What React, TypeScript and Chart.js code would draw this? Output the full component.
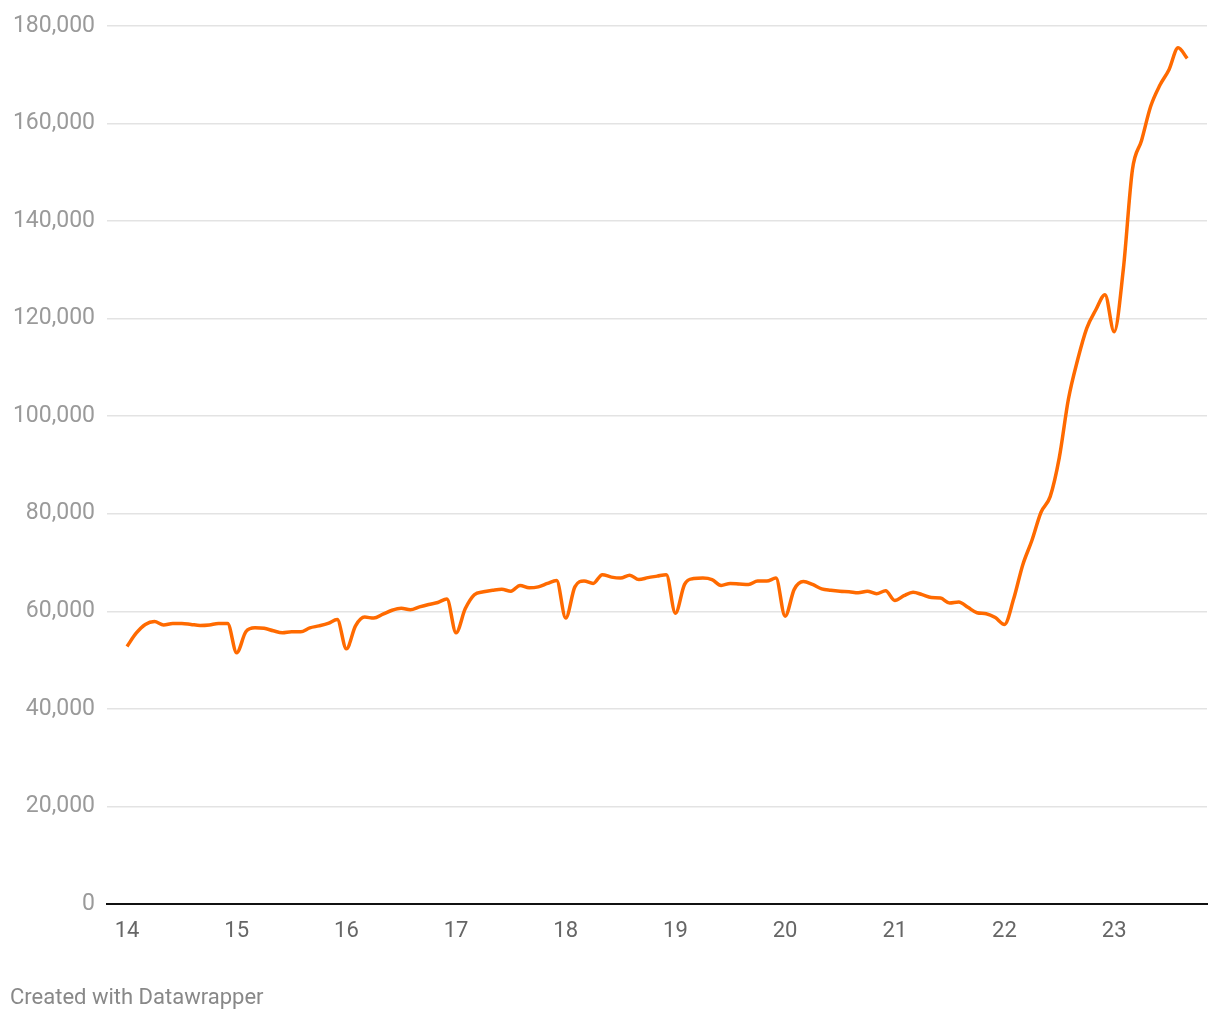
import React, { useEffect, useRef } from "react";
import { Chart, registerables } from "chart.js";

Chart.register(...registerables);

const years = ["14", "15", "16", "17", "18", "19", "20", "21", "22", "23"];

const values2014 = [52.8, 55.5, 57.3, 57.9, 57.2, 57.5, 57.5, 57.3, 57.1, 57.2, 57.5, 57.5];
const values2015 = [51.5, 55.8, 56.6, 56.5, 56.0, 55.6, 55.8, 55.8, 56.6, 57.0, 57.5, 58.3];
const values2016 = [52.3, 57.0, 58.8, 58.6, 59.4, 60.2, 60.6, 60.3, 60.9, 61.4, 61.8, 62.5];
const values2017 = [55.6, 60.5, 63.4, 64.0, 64.3, 64.5, 64.1, 65.3, 64.8, 65.0, 65.7, 66.3];
const values2018 = [58.6, 65.0, 66.2, 65.7, 67.5, 67.0, 66.8, 67.4, 66.5, 66.9, 67.2, 67.5];
const values2019 = [59.6, 65.5, 66.7, 66.8, 66.5, 65.3, 65.7, 65.6, 65.5, 66.2, 66.2, 66.8];
const values2020 = [59.0, 64.5, 66.1, 65.5, 64.6, 64.3, 64.1, 64.0, 63.8, 64.1, 63.6, 64.2];
const values2021 = [62.2, 63.2, 63.9, 63.4, 62.8, 62.7, 61.7, 61.9, 60.8, 59.7, 59.5, 58.7];
const values2022 = [57.3, 62.5, 69.5, 74.5, 80.3, 83.5, 91.5, 103.5, 111.5, 118.0, 121.8, 124.9];
const values2023 = [117.3, 130.0, 150.5, 156.5, 163.5, 167.8, 171.0, 175.5, 173.3];

const seriesThousands = [
  ...values2014, ...values2015, ...values2016, ...values2017, ...values2018,
  ...values2019, ...values2020, ...values2021, ...values2022, ...values2023,
];

const yTicks = [0, 20000, 40000, 60000, 80000, 100000, 120000, 140000, 160000, 180000];

export default function App() {
  const ref = useRef<HTMLCanvasElement | null>(null);

  useEffect(() => {
    if (!ref.current) return;
    const data = seriesThousands.map((v, i) => ({ x: i, y: v * 1000 }));
    const chart = new Chart(ref.current, {
      type: "line",
      data: {
        datasets: [
          {
            data,
            borderColor: "#ff6a00",
            borderWidth: 3.5,
            pointRadius: 0,
            cubicInterpolationMode: "monotone",
            fill: false,
          },
        ],
      },
      options: {
        animation: false,
        responsive: false,
        maintainAspectRatio: false,
        layout: { padding: { left: 0, right: 13, top: 25, bottom: 66 } },
        plugins: { legend: { display: false }, tooltip: { enabled: false } },
        scales: {
          x: {
            type: "linear",
            min: -2.19,
            max: 118.16,
            afterBuildTicks: (scale: any) => {
              scale.ticks = years.map((_, i) => ({ value: i * 12 }));
            },
            afterFit: (scale: any) => {
              scale.height = 50;
            },
            ticks: {
              autoSkip: false,
              maxRotation: 0,
              padding: 14,
              color: "#666666",
              font: { family: "Roboto", size: 22 },
              callback: (v: any) => years[Math.round(Number(v) / 12)] ?? "",
            },
            grid: { display: false, drawTicks: false },
            border: { display: true, color: "#111111", width: 2 },
          },
          y: {
            min: 0,
            max: 180000,
            afterBuildTicks: (scale: any) => {
              scale.ticks = yTicks.map((v) => ({ value: v }));
            },
            afterFit: (scale: any) => {
              scale.width = 107;
            },
            ticks: {
              padding: 12,
              color: "#9a9a9a",
              font: { family: "Roboto", size: 23 },
              callback: (v: any) => Number(v).toLocaleString("en-US"),
            },
            grid: {
              color: (ctx: any) => (ctx.tick && ctx.tick.value === 0 ? "rgba(0,0,0,0)" : "#e3e3e3"),
              lineWidth: 1.5,
              drawTicks: false,
            },
            border: { display: false },
          },
        },
      },
    });
    return () => chart.destroy();
  }, []);

  return (
    <div style={{ position: "absolute", left: 0, top: 0, width: 1220, height: 1020, background: "#ffffff" }}>
      <canvas ref={ref} width={1220} height={1020} style={{ display: "block" }} />
      <div
        style={{
          position: "absolute",
          left: 10,
          top: 984,
          fontFamily: "Roboto",
          fontSize: 22,
          color: "#888888",
          lineHeight: "26px",
          whiteSpace: "nowrap",
        }}
      >
        Created with Datawrapper
      </div>
    </div>
  );
}
